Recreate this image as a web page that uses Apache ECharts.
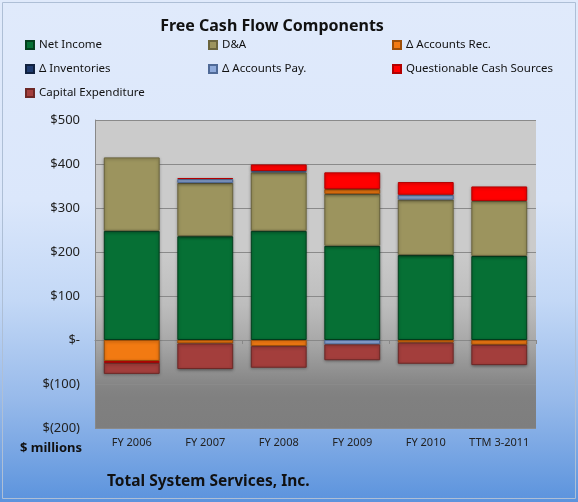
<!DOCTYPE html>
<html>
<head>
<meta charset="utf-8">
<script src="https://cdn.jsdelivr.net/npm/echarts@6/dist/echarts.min.js"></script>
<style>
  html, body { margin: 0; padding: 0; }
  #chart { width: 578px; height: 502px; }
</style>
</head>
<body>
<div id="chart"></div>
<script>
// data ($ millions)
const categories = ["FY 2006", "FY 2007", "FY 2008", "FY 2009", "FY 2010", "TTM 3-2011"];
const netIncome = [248, 236, 248, 214, 193, 191];
const depreciation = [167, 121, 133, 118, 126, 125];
const accountsRec = [-48, -8, -14, 11, -6, -11];
const inventories = [0, 0, 0, 0, 0, 0];
const accountsPay = [0, 9, 3, -10, 11, 0];
const questionable = [-4, 2, 15, 38, 29, 33];
const capex = [-25, -58, -49, -36, -48, -46];

const yTicks = [-200, -100, 0, 100, 200, 300, 400, 500];
const yTickLabels = ["$(200)", "$(100)", "$-", "$100", "$200", "$300", "$400", "$500"];

const FONT = "Noto Sans";

// name, data, fill, border
const seriesDefs = [
  ["Net Income", netIncome, "#067035", "#03401e"],
  ["D&A", depreciation, "#9c945e", "#6b653e"],
  ["\u0394 Accounts Rec.", accountsRec, "#f27a12", "#9e4f08"],
  ["\u0394 Inventories", inventories, "#1f3b6e", "#10213f"],
  ["\u0394 Accounts Pay.", accountsPay, "#8eaadb", "#4f6a97"],
  ["Questionable Cash Sources", questionable, "#ff0000", "#b30000"],
  ["Capital Expenditure", capex, "#a33e3c", "#6e2826"],
];

const chart = echarts.init(document.getElementById("chart"));

const legendBase = {
  orient: "vertical",
  top: 38,
  padding: 0,
  itemWidth: 8,
  itemHeight: 8,
  itemGap: 10,
  icon: "rect",
  textStyle: { fontFamily: FONT, fontSize: 11.5, color: "#111", lineHeight: 14 },
  selectedMode: false,
};

chart.setOption({
  animation: false,
  backgroundColor: new echarts.graphic.LinearGradient(0, 0, 0, 1, [
    { offset: 0, color: "#e0eafb" },
    { offset: 0.4, color: "#dbe7fb" },
    { offset: 0.6, color: "#c3d8f6" },
    { offset: 0.8, color: "#96b9ea" },
    { offset: 1, color: "#5b93dd" },
  ]),
  graphic: [
    {
      type: "rect",
      shape: { x: 2.5, y: 2.5, width: 573, height: 496 },
      style: { fill: null, stroke: "#aebfd6", lineWidth: 1 },
      silent: true,
    },
    {
      type: "text",
      style: {
        x: 272, y: 26, text: "Free Cash Flow Components",
        textAlign: "center", textVerticalAlign: "middle",
        font: "bold 16px 'Noto Sans'", fill: "#111",
      },
    },
    {
      type: "text",
      style: {
        x: 82, y: 448, text: "$ millions",
        textAlign: "right", textVerticalAlign: "middle",
        font: "bold 13px 'Noto Sans'", fill: "#111",
      },
    },
    {
      type: "text",
      style: {
        x: 107, y: 482, text: "Total System Services, Inc.",
        textAlign: "left", textVerticalAlign: "middle",
        font: "bold 15.5px 'Noto Sans'", fill: "#111",
      },
    },
  ],
  legend: [
    Object.assign({}, legendBase, { left: 25, data: [seriesDefs[0][0], seriesDefs[3][0], seriesDefs[6][0]] }),
    Object.assign({}, legendBase, { left: 208, data: [seriesDefs[1][0], seriesDefs[4][0]] }),
    Object.assign({}, legendBase, { left: 392, data: [seriesDefs[2][0], seriesDefs[5][0]] }),
  ],
  grid: {
    left: 95,
    right: 42,
    top: 120,
    bottom: 74,
    show: true,
    borderWidth: 0,
    outerBoundsMode: "none",
    backgroundColor: new echarts.graphic.LinearGradient(0, 0, 0, 1, [
      { offset: 0, color: "#cbcbcb" },
      { offset: 0.42, color: "#cbcbcb" },
      { offset: 0.6, color: "#bdbdbd" },
      { offset: 0.72, color: "#a8a8a8" },
      { offset: 0.86, color: "#858585" },
      { offset: 0.9, color: "#808080" },
      { offset: 1, color: "#7e7e7e" },
    ]),
  },
  xAxis: [
    {
      type: "category",
      data: categories,
      position: "bottom",
      axisLine: { onZero: false, show: false },
      axisTick: { show: false },
      axisLabel: { margin: 9, fontFamily: FONT, fontSize: 11, color: "#222", interval: 0 },
    },
    {
      type: "category",
      data: categories,
      position: "bottom",
      axisLine: { onZero: true, lineStyle: { color: "#888" } },
      axisTick: { show: true, length: 4, lineStyle: { color: "#888" } },
      axisLabel: { show: false },
    },
  ],
  yAxis: {
    type: "value",
    min: -200,
    max: 500,
    interval: 100,
    axisLine: { show: true, lineStyle: { color: "#888" } },
    axisTick: { show: false },
    splitLine: { lineStyle: { color: "#8a8a8a", width: 1 } },
    axisLabel: {
      margin: 15,
      fontFamily: FONT,
      fontSize: 13,
      color: "#222",
      formatter: function (v) {
        return yTickLabels[yTicks.indexOf(v)];
      },
    },
  },
  series: seriesDefs.map(function (d) {
    return {
      name: d[0],
      type: "bar",
      stack: "fcf",
      barCategoryGap: "24%",
      data: d[1].map(function (v) { return v === 0 ? null : v; }),
      itemStyle: {
        color: d[2],
        borderColor: d[3],
        borderWidth: 1,
        shadowColor: "rgba(0,0,0,0.35)",
        shadowBlur: 3,
        shadowOffsetY: 1,
      },
    };
  }),
});
</script>
</body>
</html>
